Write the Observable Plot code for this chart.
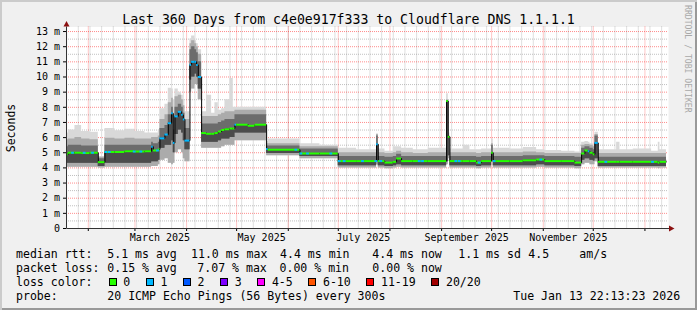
<!DOCTYPE html>
<html><head><meta charset="utf-8">
<script src="https://cdn.jsdelivr.net/npm/d3@7"></script>
<script src="https://cdn.jsdelivr.net/npm/@observablehq/plot@0.6"></script>
<style>
html,body{margin:0;padding:0;background:#f0f0f0;}
#wrap{position:relative;width:697px;height:310px;overflow:hidden;background:#f0f0f0;
  box-shadow: inset 2px 2px 0 #cbcbcb, inset -2px -2px 0 #999999;}
#wrap svg{position:absolute;left:0;top:0;overflow:visible;}
</style></head><body><div id="wrap"></div>
<script>
// ---------- data ----------
const titleText = "Last 360 Days from c4e0e917f333 to Cloudflare DNS 1.1.1.1";
const yAxisTitle = "Seconds";
const sideText = "RRDTOOL / TOBI OETIKER";
const startTime = "2025-01-18T22:13:23Z";
const endTime = "2026-01-13T22:13:23Z";

const segDate = [
"2025-01-19","2025-01-20","2025-01-24","2025-01-28","2025-02-02","2025-02-07","2025-02-11","2025-02-17","2025-02-23","2025-03-01","2025-03-07","2025-03-11","2025-03-12","2025-03-15",
"2025-03-16","2025-03-19","2025-03-21","2025-03-23","2025-03-24","2025-03-25","2025-03-27","2025-03-29","2025-03-30","2025-03-31",
"2025-04-03","2025-04-04","2025-04-06","2025-04-07","2025-04-08",
"2025-04-10","2025-04-13","2025-04-16","2025-04-18","2025-04-20","2025-04-22","2025-04-24","2025-04-27","2025-04-29",
"2025-04-30","2025-05-01","2025-05-08","2025-05-12",
"2025-05-19","2025-05-20","2025-06-08","2025-06-20",
"2025-07-01","2025-07-12","2025-07-24","2025-07-25","2025-07-29","2025-08-03","2025-08-05","2025-08-08","2025-08-15","2025-08-24",
"2025-09-04","2025-09-05","2025-09-06","2025-09-14","2025-09-18","2025-09-22","2025-09-25",
"2025-10-01","2025-10-02","2025-10-12","2025-10-20","2025-10-28","2025-11-02","2025-11-12","2025-11-20",
"2025-11-24","2025-11-26","2025-11-28","2025-11-29","2025-12-01","2025-12-02","2025-12-04","2025-12-15","2025-12-17","2025-12-25",
"2026-01-05","2026-01-09","2026-01-10"];
// median rtt (ms)
const segMed = [
4.9,5.0,5.0,4.98,5.0,4.38,5.05,5.05,5.1,5.08,5.1,5.4,5.15,5.22,
5.95,6.2,6.95,7.6,5.65,7.4,7.7,7.5,7.2,5.8,
10.8,11.0,11.0,10.8,10.0,
6.3,6.25,6.25,6.3,6.4,6.5,6.55,6.6,6.6,
6.85,6.85,6.78,6.85,
5.25,5.2,4.95,4.95,
4.45,4.45,5.56,4.45,4.35,4.4,4.62,4.45,4.45,4.45,
8.42,6.05,4.45,4.45,4.45,4.35,4.45,
5.0,4.45,4.45,4.5,4.55,4.45,4.45,4.35,
4.95,5.15,5.1,5.0,4.9,5.65,4.4,4.4,4.4,4.4,
4.4,4.35,4.4];
// loss class index (0 = 0 lost, 1 = 1 lost ...)
const segLoss = [
0,0,0,0,0,0,0,0,0,0,0,1,0,0,
1,1,1,1,1,1,1,1,1,1,
1,1,1,1,1,
0,0,0,0,0,0,0,0,0,
1,0,0,0,
1,0,0,0,
0,0,1,0,0,0,0,0,0,0,
0,0,0,0,0,0,0,
0,0,0,0,0,0,0,0,
0,0,1,0,0,1,0,0,0,0,
0,0,0];
// smoke: lowest ping, dark band low/high, medium high, highest ping (ms)
const segLo = [
4.05,4.05,4.05,4.05,4.05,4.0,4.05,4.05,4.05,4.05,4.05,4.1,4.1,4.2,
4.5,4.6,4.3,4.2,4.3,5.0,5.2,5.0,4.6,4.4,
9.0,9.2,9.5,9.5,8.5,
5.3,5.3,5.3,5.3,5.3,5.4,5.5,5.5,5.5,
5.8,5.8,5.8,5.8,
4.8,4.8,4.6,4.6,
4.0,4.0,4.2,4.0,3.95,4.0,4.05,4.0,4.0,4.0,
4.2,4.6,4.0,4.0,4.0,3.95,4.0,
4.4,4.0,4.0,4.0,4.05,4.0,4.0,3.95,
4.2,4.3,4.3,4.2,4.2,4.4,4.0,4.0,4.0,4.0,
4.0,3.95,4.0];
const segDlo = [
4.3,4.3,4.3,4.3,4.3,4.1,4.3,4.3,4.3,4.3,4.3,4.4,4.4,4.5,
5.3,5.5,5.5,5.8,5.0,6.2,6.5,6.3,5.8,5.2,
9.8,10.0,10.2,10.0,9.2,
5.7,5.7,5.7,5.7,5.8,5.9,5.9,6.0,6.0,
6.3,6.3,6.3,6.3,
4.95,4.95,4.75,4.75,
4.15,4.15,4.4,4.15,4.1,4.15,4.2,4.15,4.15,4.15,
4.4,4.8,4.15,4.15,4.15,4.1,4.15,
4.5,4.15,4.15,4.15,4.2,4.15,4.15,4.1,
4.5,4.6,4.6,4.5,4.45,4.6,4.1,4.1,4.1,4.1,
4.1,4.1,4.1];
const segDhi = [
5.4,5.5,5.5,5.45,5.45,4.6,5.5,5.5,5.5,5.5,5.5,5.7,5.6,5.7,
6.6,6.8,7.5,8.0,6.5,8.0,8.2,8.0,7.6,6.6,
11.8,12.0,11.8,11.6,11.0,
6.9,6.9,6.9,6.9,7.0,7.1,7.2,7.2,7.2,
7.5,7.5,7.5,7.5,
5.45,5.45,5.25,5.25,
4.75,4.75,6.1,4.75,4.7,4.75,4.9,4.75,4.75,4.75,
8.3,5.9,4.75,4.75,4.75,4.7,4.75,
5.5,4.75,4.75,4.8,4.8,4.75,4.75,4.7,
5.3,5.4,5.4,5.3,5.2,6.1,4.7,4.7,4.7,4.7,
4.7,4.7,4.7];
const segHi = [
5.85,5.9,6.0,5.9,5.85,4.7,5.95,5.9,5.95,5.9,5.9,6.0,6.0,6.1,
7.2,7.5,8.3,8.6,7.5,8.7,8.8,8.5,8.1,7.2,
12.2,12.4,12.2,12.0,11.5,
7.4,7.4,7.4,7.4,7.5,7.6,7.7,7.7,7.7,
7.8,7.8,7.8,7.8,
5.6,5.6,5.4,5.4,
5.0,5.0,6.2,5.0,4.95,5.0,5.1,5.0,4.95,5.0,
8.5,6.1,5.0,5.0,5.0,4.95,5.0,
5.6,5.0,5.0,5.05,5.0,4.95,4.95,4.95,
5.5,5.55,5.55,5.5,5.4,6.2,4.95,4.95,4.95,4.95,
4.95,4.95,4.95];
const segTop = [
6.3,6.5,6.8,6.4,6.35,4.75,6.6,6.45,6.55,6.4,6.3,6.3,6.3,6.5,
7.9,8.2,9.25,9.2,8.5,9.2,9.0,8.8,8.5,7.7,
12.5,12.7,12.4,12.2,11.8,
7.7,8.8,7.6,8.3,7.8,7.9,8.5,9.9,8.0,
8.0,8.0,8.0,8.0,
5.75,5.9,5.6,5.5,
5.3,5.2,6.25,5.25,5.1,5.4,5.4,5.3,5.2,5.3,
8.9,6.3,5.25,5.5,5.2,5.2,5.25,
5.9,5.3,5.25,5.35,5.2,5.15,5.1,5.05,
5.7,5.75,5.7,5.6,5.5,6.35,5.2,5.7,5.2,5.25,
5.1,5.7,5.2];

// single samples with 1 lost ping inside otherwise clean periods
const blueDate = ["2025-01-22","2025-01-29","2025-02-03","2025-02-11","2025-02-13","2025-02-28","2025-03-04","2025-03-14",
"2025-06-05","2025-06-08","2025-06-12","2025-06-26","2025-07-01","2025-07-04","2025-07-15","2025-07-23","2025-07-26",
"2025-08-18","2025-08-20","2025-09-09","2025-09-11","2025-09-23","2025-10-02","2025-10-30","2025-12-08","2026-01-05"];
const blueMed = [5.0,5.0,5.0,5.05,5.05,5.08,5.08,5.15,
5.2,4.95,4.95,4.95,4.45,4.45,4.45,4.45,4.45,
4.45,4.45,4.45,4.45,4.35,4.45,4.55,4.4,4.4];

const lossColors = ["#26ff00","#00b8ff","#0059ff","#7e00ff","#ff00ff","#ff5500","#ff0000","#a10000"];
const lossLabels = ["0","1","2","3","4-5","6-10","11-19","20/20"];

const yTicks = [0,1,2,3,4,5,6,7,8,9,10,11,12,13];
const yTickLabels = ["0","1 m","2 m","3 m","4 m","5 m","6 m","7 m","8 m","9 m","10 m","11 m","12 m","13 m"];
const yMinor = [0.5,1.5,2.5,3.5,4.5,5.5,6.5,7.5,8.5,9.5,10.5,11.5,12.5];
const xLabelDates = ["2025-03-16","2025-05-16","2025-07-16","2025-09-16","2025-11-16"];
const xLabels = ["March 2025","May 2025","July 2025","September 2025","November 2025"];

const legendRtt = [["median rtt:",16],["5.1 ms avg",107.3],["11.0 ms max",191],["4.4 ms min",280],["4.4 ms now",372.3],["1.1 ms sd",458.3],["4.5",528.3],["am/s",579.3]];
const legendLoss = [["packet loss:",16],["0.15 % avg",107.3],["7.07 % max",197.3],["0.00 % min",279.5],["0.00 % now",372.3]];
const legendColorTitle = "loss color:";
const legendProbe = [["probe:",16],["20 ICMP Echo Pings (56 Bytes) every 300s",107.3],["Tue Jan 13 22:13:23 2026",513.3]];

// ---------- build ----------
const mono = "'DejaVu Sans Mono','Liberation Mono',monospace";
const P = s => new Date(s.length === 10 ? s + "T00:00:00Z" : s);
const start = P(startTime), end = P(endTime);
const domainEnd = d3.utcHour.offset(end, 29);
const rows = segDate.map((d, i) => ({
  date: P(d), next: i < segDate.length - 1 ? P(segDate[i + 1]) : end,
  med: segMed[i], loss: segLoss[i], lo: segLo[i], dlo: segDlo[i], dhi: segDhi[i], hi: segHi[i], top: segTop[i]
}));
const stepRows = rows.concat([{...rows[rows.length - 1], date: end}]);
const blueRows = blueDate.map((d, i) => ({date: P(d), end: d3.utcHour.offset(P(d), 40), med: blueMed[i]}));
const weeks = d3.utcSunday.range(start, domainEnd);
const months = d3.utcMonth.range(start, domainEnd);
const xLab = xLabelDates.map(P);
const redGrid = {stroke: "#ff0000", strokeOpacity: 0.45, strokeDasharray: "1,1"};
const grayGrid = {stroke: "#8c8c8c", strokeOpacity: 0.55, strokeDasharray: "1,1"};

const chart = Plot.plot({
  width: 697, height: 245,
  marginLeft: 66, marginRight: 29, marginTop: 26.5, marginBottom: 17,
  x: {type: "utc", domain: [start, domainEnd], label: null},
  y: {domain: [0, 13.3], label: null},
  color: {type: "identity"},
  style: {background: "transparent", color: "#000", fontFamily: mono, fontSize: "10px"},
  marks: [
    Plot.frame({fill: "white", stroke: "none"}),
    Plot.ruleX(weeks, grayGrid),
    Plot.ruleY(yMinor, grayGrid),
    Plot.ruleX(months, redGrid),
    Plot.ruleY(yTicks.slice(1), redGrid),
    Plot.areaY(stepRows, {x: "date", y1: "lo", y2: "top", curve: "step-after", fill: "#d9d9d9"}),
    Plot.areaY(stepRows, {x: "date", y1: "lo", y2: "hi", curve: "step-after", fill: "#ababab"}),
    Plot.areaY(stepRows, {x: "date", y1: "dlo", y2: "dhi", curve: "step-after", fill: "#6c6c6c"}),
    Plot.areaY(stepRows, {x: "date", y1: "dlo", y2: "med", curve: "step-after", fill: "#4c4c4c"}),
    Plot.line(stepRows, {x: "date", y: "med", curve: "step-after", stroke: "#000", strokeWidth: 1}),
    Plot.ruleY(rows, {y: "med", x1: "date", x2: "next", stroke: d => lossColors[d.loss], strokeWidth: 2}),
    Plot.ruleY(blueRows, {y: "med", x1: "date", x2: "end", stroke: lossColors[1], strokeWidth: 2}),
    Plot.axisY(yTicks, {tickSize: 3, tickPadding: 3.5, fontSize: 10, label: null,
      tickFormat: d => yTickLabels[yTicks.indexOf(d)]}),
    Plot.axisX(xLab, {tickSize: 0, tickPadding: 5.5, fontSize: 10, label: null,
      tickFormat: d => xLabels[xLab.findIndex(t => +t === +d)]}),
    Plot.axisX(months, {tickSize: 3, label: null, tickFormat: () => ""})
  ]
});
const wrap = document.getElementById("wrap");
wrap.appendChild(chart);

// ---------- overlay: title, axis lines, legend ----------
const sx = chart.scale("x"), sy = chart.scale("y");
const ov = d3.select(wrap).append("svg").attr("width", 697).attr("height", 310)
  .style("font-family", mono);
const x0 = Math.round(sx.apply(start)) + 0.5, y0 = Math.round(sy.apply(0)) + 0.5;
const yTop = sy.apply(13.3), xRight = sx.apply(domainEnd);
ov.append("line").attr("x1", x0).attr("x2", x0).attr("y1", y0).attr("y2", yTop).attr("stroke", "#333");
ov.append("line").attr("x1", x0).attr("x2", xRight + 1).attr("y1", y0).attr("y2", y0).attr("stroke", "#333");
ov.append("path").attr("d", `M${x0 - 3},${yTop} L${x0 + 3},${yTop} L${x0},${yTop - 5.5} Z`).attr("fill", "#8b1010");
ov.append("path").attr("d", `M${xRight + 1},${y0 - 3} L${xRight + 1},${y0 + 3} L${xRight + 6.5},${y0} Z`).attr("fill", "#8b1010");

ov.append("text").attr("x", 348.5).attr("y", 24).attr("text-anchor", "middle")
  .attr("font-size", 13.2).attr("fill", "#000").text(titleText);
ov.append("text").attr("transform", "translate(15,128) rotate(-90)").attr("text-anchor", "middle")
  .attr("font-size", 11.5).attr("fill", "#000").text(yAxisTitle);
ov.append("text").attr("transform", "translate(684.5,5) rotate(90)").attr("text-anchor", "start")
  .attr("font-size", 8.15).attr("fill", "#a8a8a8").text(sideText);

const fs = 11.55, cw = fs * 0.602;
function line(items, y) {
  items.forEach(([t, x]) => ov.append("text").attr("x", x).attr("y", y).attr("font-size", fs)
    .attr("fill", "#000").style("white-space", "pre").text(t));
}
line(legendRtt, 257.5);
line(legendLoss, 271.7);
line([[legendColorTitle, 16]], 285.8);
let bx = 108.7;
lossLabels.forEach((lab, i) => {
  ov.append("rect").attr("x", Math.round(bx) + 0.5).attr("y", 278.5).attr("width", 7).attr("height", 7)
    .attr("fill", lossColors[i]).attr("stroke", "#000");
  ov.append("text").attr("x", bx + 14.6).attr("y", 285.8).attr("font-size", fs).attr("fill", "#000").text(lab);
  bx = bx + 14.6 + lab.length * cw + 15.6;
});
line(legendProbe, 300);
</script></body></html>
